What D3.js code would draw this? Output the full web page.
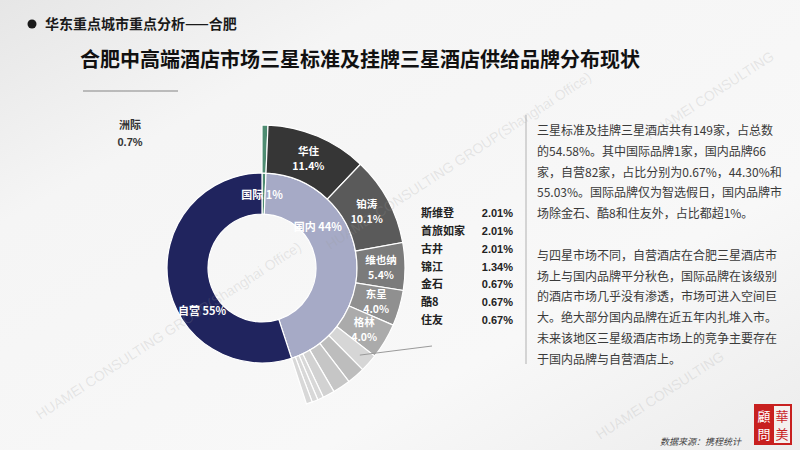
<!DOCTYPE html>
<html>
<head>
<meta charset="utf-8">
<script src="https://cdn.jsdelivr.net/npm/d3@7"></script>
<style>
  html, body { margin: 0; padding: 0; background: #f6f6f6; }
  svg { display: block; font-family: "Noto Sans CJK SC", "Noto Sans", sans-serif; }
</style>
</head>
<body>
<script>
const d3 = window.d3;
const W = 800;
const H = 450;

// inner ring: brand type (hotel counts, total 149)
const typeNames = ['国际', '国内', '自营'];
const typeCounts = [1, 66, 82];
const typeLabels = ['国际 1%', '国内 44%', '自营 55%'];

// outer ring: brands inside 国际 + 国内
const brandNames = ['洲际', '华住', '铂涛', '维也纳', '东呈', '格林', '斯维登', '首旅如家', '古井', '锦江', '金石', '酷8', '住友'];
const brandCounts = [1, 17, 15, 8, 6, 6, 3, 3, 3, 2, 1, 1, 1];
const brandPcts = ['0.7%', '11.4%', '10.1%', '5.4%', '4.0%', '4.0%', '2.01%', '2.01%', '2.01%', '1.34%', '0.67%', '0.67%', '0.67%'];

const TOTAL = d3.sum(typeCounts);

const header = '华东重点城市重点分析——合肥';
const title = '合肥中高端酒店市场三星标准及挂牌三星酒店供给品牌分布现状';
const notes = [
  '三星标准及挂牌三星酒店共有149家，占总数',
  '的54.58%。其中国际品牌1家，国内品牌66',
  '家，自营82家，占比分别为0.67%，44.30%和',
  '55.03%。国际品牌仅为智选假日，国内品牌市',
  '场除金石、酷8和住友外，占比都超1%。',
  '',
  '与四星市场不同，自营酒店在合肥三星酒店市',
  '场上与国内品牌平分秋色，国际品牌在该级别',
  '的酒店市场几乎没有渗透，市场可进入空间巨',
  '大。绝大部分国内品牌在近五年内扎堆入市。',
  '未来该地区三星级酒店市场上的竞争主要存在',
  '于国内品牌与自营酒店上。'
];
const source = '数据来源：携程统计';
const watermarks = ['HUAMEI CONSULTING GROUP(Shanghai Office)', 'HUAMEI CONSULTING GROUP(Shanghai Office)', 'HUAMEI CONSULTING', 'HUAMEI CONSULTING'];

const typeColors = { 国际: '#4e8c72', 国内: '#a6aac6', 自营: '#20245e' };
const brandColors = ['#4e8c72', '#363636', '#5a5a5a', '#7b7b7b', '#909090', '#ababab',
  '#d6d6d6', '#bdbdbd', '#c6c6c6', '#d2d2d2', '#d8d8d8', '#d8d8d8', '#d8d8d8'];

// label placement (angle in degrees from top, radius) for the inner ring
const typeLabelPos = { 国际: [0, 73], 国内: [54, 69], 自营: [234, 74] };

const cx = 262;
const cy = 268;
const r0 = 54;
const r1 = 95;
const r2 = 143;

const svg = d3.select('body').append('svg').attr('width', W).attr('height', H);

// background
{
  const defs = svg.append('defs');
  const g = defs.append('linearGradient').attr('id', 'bg')
    .attr('x1', 0).attr('y1', 0).attr('x2', 1).attr('y2', 1);
  g.append('stop').attr('offset', '0%').attr('stop-color', '#e6e6e6');
  g.append('stop').attr('offset', '25%').attr('stop-color', '#f5f5f5');
  g.append('stop').attr('offset', '70%').attr('stop-color', '#f8f8f8');
  g.append('stop').attr('offset', '100%').attr('stop-color', '#ececec');
  svg.append('rect').attr('width', W).attr('height', H).attr('fill', 'url(#bg)');
}

// headings
{
  svg.append('circle').attr('cx', 32).attr('cy', 24).attr('r', 4.5).attr('fill', '#1a1a1a');
  svg.append('text').attr('x', 45).attr('y', 29)
    .attr('font-size', 14).attr('font-weight', 'bold').attr('fill', '#1a1a1a')
    .text(header);
  svg.append('text').attr('x', 80).attr('y', 67)
    .attr('font-size', 20).attr('font-weight', 'bold').attr('fill', '#111')
    .text(title);
  svg.append('line').attr('x1', 83).attr('x2', 178).attr('y1', 91).attr('y2', 91)
    .attr('stroke', '#a8a8a8').attr('stroke-width', 1.6);
}

// donut
{
  const angle = d3.scaleLinear().domain([0, TOTAL]).range([0, 2 * Math.PI]);
  const g = svg.append('g').attr('transform', `translate(${cx},${cy})`);

  const typeData = [];
  let acc = 0;
  typeNames.forEach((n, i) => {
    typeData.push({ name: n, label: typeLabels[i], start: angle(acc), end: angle(acc + typeCounts[i]) });
    acc += typeCounts[i];
  });

  const brandData = [];
  acc = 0;
  brandNames.forEach((n, i) => {
    brandData.push({ name: n, pct: brandPcts[i], color: brandColors[i], i: i,
      start: angle(acc), end: angle(acc + brandCounts[i]) });
    acc += brandCounts[i];
  });

  const innerArc = d3.arc().innerRadius(r0).outerRadius(r1)
    .startAngle((d) => d.start).endAngle((d) => d.end);
  const outerArc = d3.arc().innerRadius(r1).outerRadius(r2)
    .startAngle((d) => d.start).endAngle((d) => d.end);

  g.selectAll('path.inner')
    .data(typeData)
    .enter()
    .append('path')
    .attr('class', 'inner')
    .attr('d', innerArc)
    .attr('fill', (d) => typeColors[d.name])
    .attr('stroke', '#fff')
    .attr('stroke-width', 1.2);

  g.selectAll('path.outer')
    .data(brandData)
    .enter()
    .append('path')
    .attr('class', 'outer')
    .attr('d', outerArc)
    .attr('fill', (d) => d.color)
    .attr('stroke', '#fff')
    .attr('stroke-width', 1.2);

  // inner labels
  g.selectAll('text.tl')
    .data(typeData)
    .enter()
    .append('text')
    .attr('class', 'tl')
    .attr('x', (d) => typeLabelPos[d.name][1] * Math.sin(typeLabelPos[d.name][0] * Math.PI / 180))
    .attr('y', (d) => -typeLabelPos[d.name][1] * Math.cos(typeLabelPos[d.name][0] * Math.PI / 180) + 4)
    .attr('text-anchor', 'middle')
    .attr('font-size', 11)
    .attr('font-weight', 'bold')
    .attr('fill', '#fff')
    .text((d) => d.label);

  // big brand labels (two lines, white inside the slice)
  const labelArc = d3.arc().innerRadius(119).outerRadius(119)
    .startAngle((d) => d.start).endAngle((d) => d.end);
  const big = brandData.filter((d) => d.i >= 1 && d.i <= 5);
  const bl = g.selectAll('g.bl')
    .data(big)
    .enter()
    .append('g')
    .attr('class', 'bl')
    .attr('transform', (d) => `translate(${labelArc.centroid(d)})`)
    .attr('text-anchor', 'middle')
    .attr('font-size', 10.5)
    .attr('font-weight', 'bold')
    .attr('fill', '#fff');
  bl.append('text').attr('y', -3).text((d) => d.name);
  bl.append('text').attr('y', 12).text((d) => d.pct);

  // 洲际 label outside, top-left
  const zj = brandData[0];
  const zg = svg.append('g').attr('text-anchor', 'middle')
    .attr('font-size', 11).attr('font-weight', 'bold').attr('fill', '#333');
  zg.append('text').attr('x', 130).attr('y', 129).text(zj.name);
  zg.append('text').attr('x', 130).attr('y', 146).attr('font-family', 'Liberation Sans, sans-serif').text(zj.pct);

  // small brands listed at the side
  const small = brandData.filter((d) => d.i >= 6);
  const rowY = d3.scaleLinear().domain([0, small.length - 1]).range([213, 320]);
  const lg = svg.append('g').attr('font-size', 11).attr('font-weight', 'bold').attr('fill', '#222');
  lg.selectAll('text.n')
    .data(small)
    .enter()
    .append('text')
    .attr('class', 'n')
    .attr('x', 421)
    .attr('y', (d, i) => rowY(i) + 4)
    .text((d) => d.name);
  lg.selectAll('text.v')
    .data(small)
    .enter()
    .append('text')
    .attr('class', 'v')
    .attr('x', 513)
    .attr('y', (d, i) => rowY(i) + 4)
    .attr('text-anchor', 'end')
    .attr('font-family', 'Liberation Sans, sans-serif')
    .text((d) => d.pct);

  // leader line from the small slices to the list
  const lead = d3.arc().innerRadius(131).outerRadius(131)
    .startAngle((d) => d.start).endAngle((d) => d.end);
  const p = lead.centroid(brandData[6]);
  svg.append('line')
    .attr('x1', cx + p[0]).attr('y1', cy + p[1])
    .attr('x2', 432).attr('y2', 346)
    .attr('stroke', '#9a9a9a').attr('stroke-width', 1);
}

// right text panel
{
  svg.append('line').attr('x1', 526).attr('x2', 526).attr('y1', 115).attr('y2', 364)
    .attr('stroke', '#c8c8c8').attr('stroke-width', 1.5);
  svg.append('g').selectAll('text')
    .data(notes)
    .enter()
    .append('text')
    .attr('x', 537)
    .attr('y', (d, i) => 135 + i * 20.8)
    .attr('font-size', 12)
    .attr('fill', '#3a3a3a')
    .text((d) => d);
}

// footer + seal
{
  svg.append('text').attr('x', 660).attr('y', 445)
    .attr('font-size', 9).attr('font-style', 'italic').attr('fill', '#444')
    .text(source);

  const seal = svg.append('g').attr('transform', 'translate(754,404)');
  seal.append('rect').attr('width', 38).attr('height', 41).attr('fill', '#c8201f');
  seal.append('rect').attr('x', 20).attr('y', 2).attr('width', 16).attr('height', 37).attr('fill', '#f4f0ee');
  const sealText = [['華', 28, 17, '#c8201f'], ['美', 28, 35, '#c8201f'], ['顧', 10, 17, '#fff'], ['問', 10, 35, '#fff']];
  seal.selectAll('text')
    .data(sealText)
    .enter()
    .append('text')
    .attr('x', (d) => d[1])
    .attr('y', (d) => d[2])
    .attr('text-anchor', 'middle')
    .attr('font-size', 13)
    .attr('font-family', '"Noto Sans CJK TC", serif')
    .attr('fill', (d) => d[3])
    .text((d) => d[0]);
}

// faint watermarks laid over everything
{
  const wmPos = [[40, 420], [330, 250], [600, 440], [650, 140]];
  svg.append('g').attr('pointer-events', 'none').selectAll('text')
    .data(watermarks)
    .enter()
    .append('text')
    .attr('transform', (d, i) => `translate(${wmPos[i][0]},${wmPos[i][1]})rotate(-33)`)
    .attr('font-family', 'Liberation Sans, sans-serif')
    .attr('font-size', 14)
    .attr('fill', '#9a9a9a')
    .attr('fill-opacity', 0.2)
    .text((d) => d);
}
</script>
</body>
</html>
